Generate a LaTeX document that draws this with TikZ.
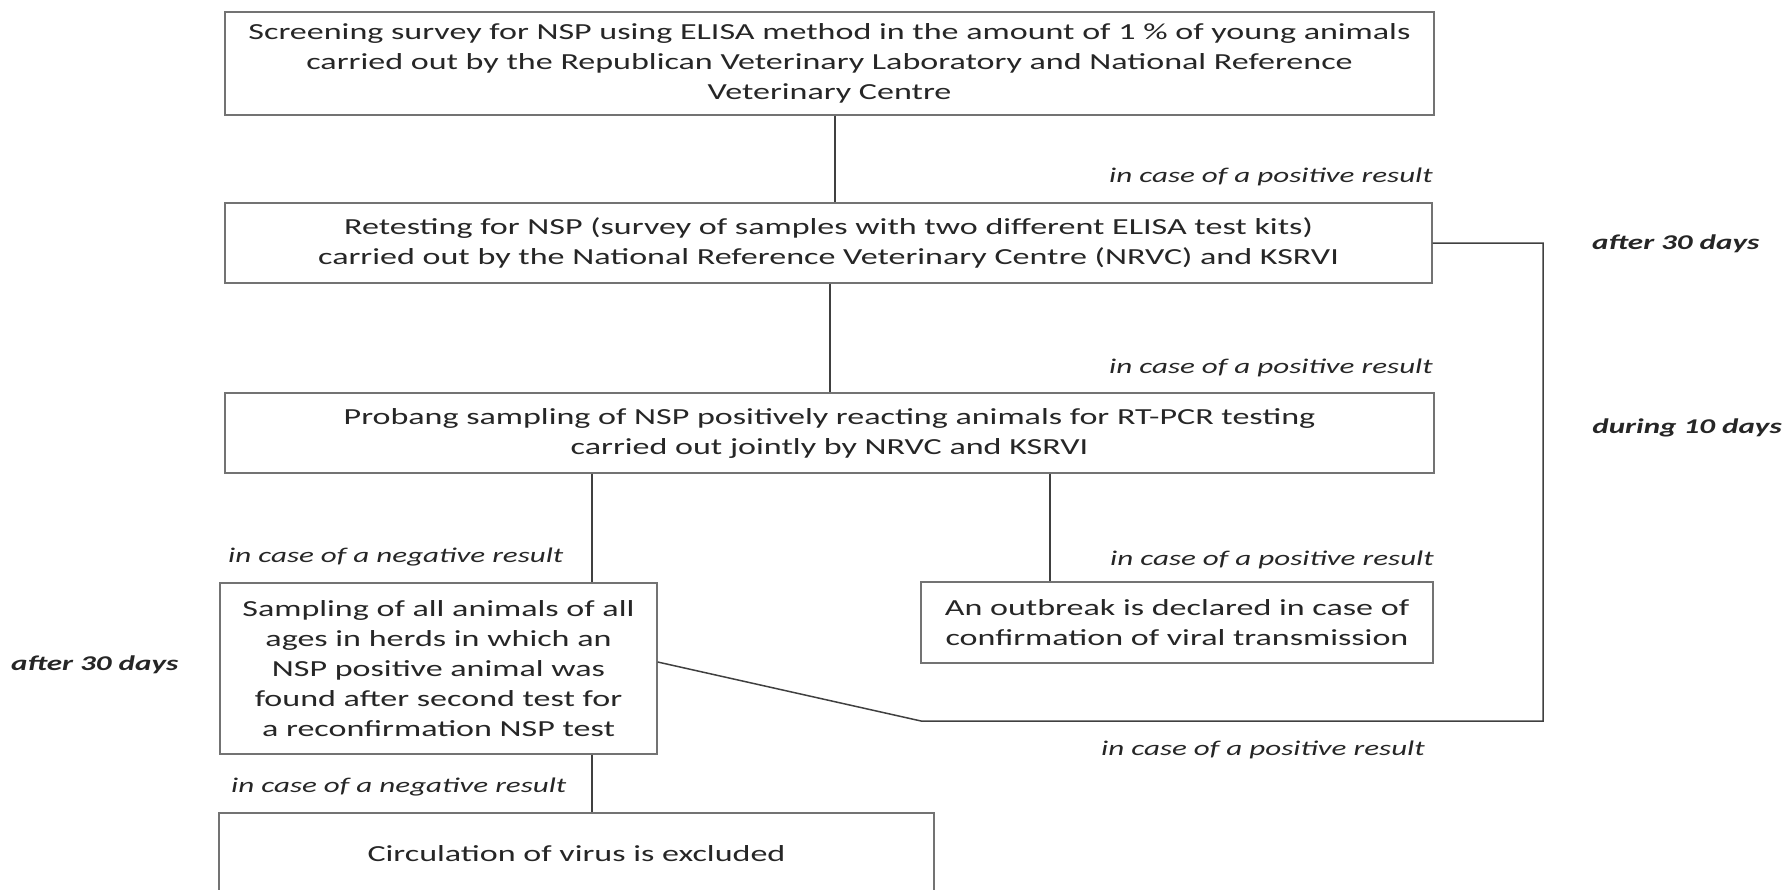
\documentclass[tikz,border=0pt]{standalone}
\usepackage{fontspec}
\setmainfont{Carlito}[FakeStretch=1.48]
\begin{document}
\begin{tikzpicture}[x=1pt,y=-1pt,
  stepbox/.style={draw=black!55, line width=1.4pt, fill=white, align=center,
    text=black!85, font=\fontsize{23}{30}\selectfont, inner sep=0pt},
  link/.style={draw=black!75, line width=1.5pt},
  cond/.style={text=black!85, font=\fontsize{21}{26}\selectfont\itshape, inner sep=0pt},
  timing/.style={text=black!85, font=\fontsize{21}{26}\selectfont\bfseries\itshape, inner sep=0pt}]
\useasboundingbox (0,0) rectangle (1783,889);

% process boxes
\node[stepbox, minimum width=1209pt, minimum height=103pt] (screen) at (829.5,63.5)
  {Screening survey for NSP using ELISA method in the amount of 1 \% of young animals\\
   carried out by the Republican Veterinary Laboratory and National Reference\\
   Veterinary Centre};
\node[stepbox, minimum width=1207pt, minimum height=80pt] (retest) at (828.5,243)
  {Retesting for NSP (survey of samples with two different ELISA test kits)\\
   carried out by the National Reference Veterinary Centre (NRVC) and KSRVI};
\node[stepbox, minimum width=1209pt, minimum height=80pt] (probang) at (829.5,433)
  {Probang sampling of NSP positively reacting animals for RT-PCR testing\\
   carried out jointly by NRVC and KSRVI};
\node[stepbox, minimum width=437pt, minimum height=171pt] (herds) at (438.5,668.5)
  {Sampling of all animals of all\\ ages in herds in which an\\ NSP positive animal was\\
   found after second test for\\ a reconfirmation NSP test};
\node[stepbox, minimum width=512pt, minimum height=81pt] (outbreak) at (1177,622.5)
  {An outbreak is declared in case of\\ confirmation of viral transmission};
\node[stepbox, minimum width=715pt, minimum height=82pt] (excluded) at (576.5,854)
  {Circulation of virus is excluded};

% connectors
\draw[link] ([xshift=5.5pt]screen.south) -- ([xshift=5.5pt]screen.south |- retest.north);
\draw[link] ([xshift=1.5pt]retest.south) -- ([xshift=1.5pt]retest.south |- probang.north);
\draw[link] ([xshift=-237.5pt]probang.south) -- ([xshift=-237.5pt]probang.south |- herds.north);
\draw[link] ([xshift=220.5pt]probang.south) -- ([xshift=220.5pt]probang.south |- outbreak.north);
\draw[link] ([xshift=153.5pt]herds.south) -- ([xshift=153.5pt]herds.south |- excluded.north);

% loop back from the herd sampling to the retesting step
\coordinate (bendA) at (921,721);
\coordinate (bendB) at (1543,721);
\draw[link] ([yshift=6.5pt]herds.east) -- (bendA) -- (bendB) |- (retest.east);

% condition labels
\node[cond, anchor=east] (c1) at (1433,177) {in case of a positive result};
\node[cond, anchor=east] (c2) at (1433,368) {in case of a positive result};
\node[cond, anchor=west] (c3) at (228,557) {in case of a negative result};
\node[cond, anchor=east] (c4) at (1434,560) {in case of a positive result};
\node[cond, anchor=east] (c5) at (1425,750) {in case of a positive result};
\node[cond, anchor=west] (c6) at (231,787) {in case of a negative result};

% timing labels
\node[timing, anchor=west] (t1) at (1592,244) {after 30 days};
\node[timing, anchor=east] (t2) at (1782,428) {during 10 days};
\node[timing, anchor=west] (t3) at (11,665) {after 30 days};
\end{tikzpicture}
\end{document}
